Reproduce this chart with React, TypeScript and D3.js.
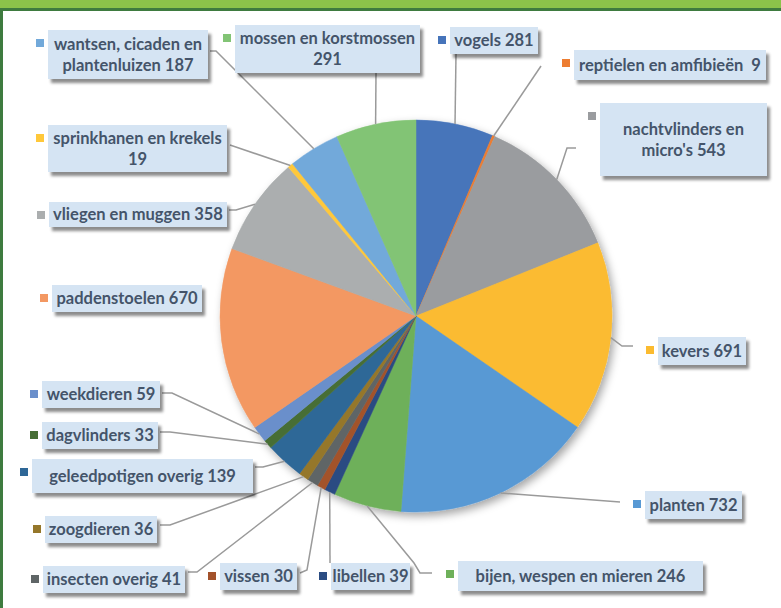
import React from "react";
import * as d3 from "d3";

const categories = [
  "vogels", "reptielen en amfibieën", "nachtvlinders en micro's", "kevers", "planten",
  "bijen, wespen en mieren", "libellen", "vissen", "insecten overig", "zoogdieren",
  "geleedpotigen overig", "dagvlinders", "weekdieren", "paddenstoelen", "vliegen en muggen",
  "sprinkhanen en krekels", "wantsen, cicaden en plantenluizen", "mossen en korstmossen",
];
const values = [281, 9, 543, 691, 732, 246, 39, 30, 41, 36, 139, 33, 59, 670, 358, 19, 187, 291];
const colors = [
  "#4674BA", "#ED7D31", "#9A9C9F", "#FBBB30", "#5899D4",
  "#6EB05A", "#2B4C82", "#A3522B", "#5F6566", "#95772A",
  "#2E6797", "#466E35", "#6A8FCB", "#F39862", "#ABAEAF",
  "#FFC83A", "#72A9DA", "#82C475",
];
// label text lines (as displayed)
const labelLines = [
  ["vogels 281"], ["reptielen en amfibieën \u00A09"], ["nachtvlinders en", "micro's 543"], ["kevers 691"],
  ["planten 732"], ["bijen, wespen en mieren 246"], ["libellen 39"], ["vissen 30"],
  ["insecten overig 41"], ["zoogdieren 36"], ["geleedpotigen overig 139"], ["dagvlinders 33"],
  ["weekdieren 59"], ["paddenstoelen 670"], ["vliegen en muggen 358"], ["sprinkhanen en krekels", "19"],
  ["wantsen, cicaden en", "plantenluizen 187"], ["mossen en korstmossen", "291"],
];

// layout: label boxes [x, y, w, h] and leader points on label side
const boxes: number[][] = [
  [450, 27, 88, 27], [574, 50, 192, 30], [600, 103, 167, 73], [658, 337, 88, 28],
  [645, 491, 97, 28], [458, 561, 245, 30], [331, 563, 79, 27], [220, 563, 77, 27],
  [43, 566, 142, 27], [45, 516, 112, 27], [32, 459, 221, 34], [42, 422, 116, 27],
  [42, 381, 118, 27], [52, 285, 150, 27], [49, 202, 178, 25], [48, 125, 179, 47],
  [48, 30, 160, 49], [235, 25, 185, 48],
];
const leaders: (number[][] | null)[] = [
  [[456, 54]], [[541, 66]], [[567, 148], [576, 148]], [[622, 346], [633, 346]],
  [[620, 502]], [[414, 563], [420, 573], [432, 573]], [[330, 563]], [[307, 570], [300, 573]],
  [[197, 572], [188, 572]], [[170, 525], [160, 525]], [[263, 467], [255, 467]], [[170, 432], [160, 432]],
  [[172, 393], [162, 393]], null, [[236, 210], [229, 210]], [[230, 145]],
  [[216, 51], [210, 51]], [[376, 73]],
];

const W = 781, H = 608;
const cx = 416, cy = 316, R = 196;

export default function App() {
  const pie = d3.pie<number>().sort(null).value((d) => d)(values);
  const arc = d3.arc<d3.PieArcDatum<number>>().innerRadius(0).outerRadius(R);
  const edge = (a: d3.PieArcDatum<number>) => {
    const m = (a.startAngle + a.endAngle) / 2;
    return [cx + R * Math.sin(m), cy - R * Math.cos(m)];
  };
  const line = d3.line();
  return (
    <svg width={W} height={H} style={{ position: "absolute", left: 0, top: 0 }}
      fontFamily="Lato, 'Open Sans', sans-serif">
      <defs>
        <filter id="boxsh" x="-20%" y="-40%" width="140%" height="180%">
          <feDropShadow dx="3" dy="4" stdDeviation="1.6" floodColor="#000" floodOpacity="0.45" />
        </filter>
        <filter id="piesh" x="-20%" y="-20%" width="140%" height="140%">
          <feDropShadow dx="3" dy="4" stdDeviation="4" floodColor="#000" floodOpacity="0.35" />
        </filter>
      </defs>
      <rect x={0} y={0} width={W} height={H} fill="#fff" />
      <rect x={0} y={0} width={W} height={8} fill="#8BC34A" />
      <rect x={0} y={8} width={W} height={3} fill="#3E7B3F" />
      <rect x={0} y={8} width={3} height={H - 8} fill="#3E7B3F" />
      <g filter="url(#piesh)" transform={`translate(${cx},${cy})`}>
        {pie.map((p, i) => (
          <path key={i} d={arc(p) || ""} fill={colors[i]} stroke={colors[i]} strokeWidth={0.5} />
        ))}
      </g>
      <g fill="none" stroke="#9a9a9a" strokeWidth={1.5}>
        {pie.map((p, i) => {
          const l = leaders[i];
          if (!l) return null;
          const pts = [edge(p), ...l] as [number, number][];
          return <path key={i} d={line(pts) || ""} />;
        })}
      </g>
      {boxes.map((b, i) => {
        const [x, y, w, h] = b;
        const lines = labelLines[i];
        const lh = 21;
        const top = y + h / 2 - ((lines.length - 1) * lh) / 2;
        return (
          <g key={i}>
            <rect x={x - 12} y={y + 9} width={8} height={8} fill={colors[i]} />
            <rect x={x} y={y} width={w} height={h} fill="#D5E4F3" filter="url(#boxsh)" />
            {lines.map((t, j) => (
              <text key={j} x={x + w / 2} y={top + j * lh} dy="0.36em" textAnchor="middle"
                fontSize={16.5} fontWeight="bold" fill="#44546A">{t}</text>
            ))}
          </g>
        );
      })}
    </svg>
  );
}
